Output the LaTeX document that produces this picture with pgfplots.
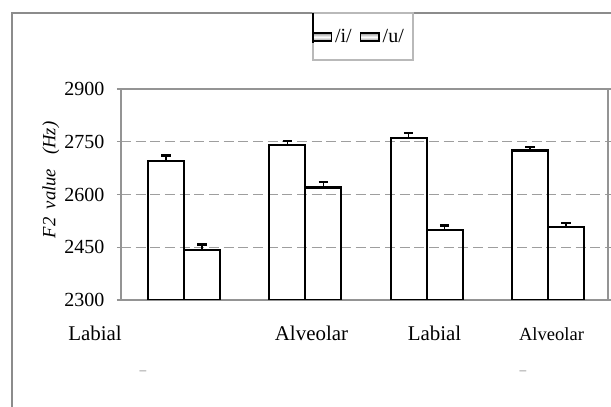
\documentclass[border=0pt]{standalone}
\usepackage{pgfplots}
\usepackage{pgfplotstable}
\pgfplotsset{compat=1.18}
\usepackage{fontspec}
\setmainfont{Liberation Serif}

\definecolor{framec}{gray}{0.55}
\definecolor{axisc}{gray}{0.58}
\definecolor{gridc}{gray}{0.62}

% mean F2 (Hz) and upper error per place of articulation
\pgfplotstableread{
grp  val   err
0    2695  16
1    2741  11
2    2760  15
3    2725  10
}\vowelI
\pgfplotstableread{
grp  val   err
0    2441  17
1    2620  15
2    2499  13
3    2507  12
}\vowelU

\begin{document}
\begin{tikzpicture}[x=0.75pt,y=0.75pt]
\useasboundingbox (0,0) rectangle (611,407);
% outer frame
\draw[framec, line width=2.2pt] (12,0) -- (12,394) -- (611,394);
\begin{axis}[
  at={(90.75pt,80.25pt)}, anchor=south west,
  scale only axis, width=365.25pt, height=158.25pt,
  xmin=-0.52, xmax=3.495,
  ymin=2300, ymax=2900,
  y coord trafo/.code={\pgfmathparse{#1-2300}},
  y coord inv trafo/.code={\pgfmathparse{#1+2300}},
  ytick={2300,2450,2600,2750,2900},
  yticklabels={2300,2450,2600,2750,2900},
  xtick=\empty,
  tick align=outside, major tick length=3pt,
  y tick style={axisc, line width=1pt},
  yticklabel style={font=\fontsize{15}{17}\selectfont, anchor=east, xshift=-6pt},
  axis line style={axisc, line width=1.4pt},
  ymajorgrids,
  major grid style={gridc, line width=1.1pt, dash pattern=on 7.5pt off 3.5pt},
  ybar=0pt, bar width=0.297,
  ylabel={\itshape F2\hspace{0.45em}value\hspace{0.75em}(Hz)},
  ylabel style={at={(axis description cs:-0.144,0.569)}, anchor=center,
                font=\fontsize{14}{16}\selectfont},
  legend columns=2,
  legend style={draw=none, fill=none, at={(axis description cs:0.392,1.247)},
                anchor=west, inner sep=0pt,
                font=\fontsize{15}{17}\selectfont,
                /tikz/every even column/.append style={column sep=4pt}},
  legend image code/.code={
    \draw[black, line width=1.2pt, top color=gray!85, bottom color=gray!85,
          middle color=white] (0pt,-3pt) rectangle (14pt,3pt);},
  error bars/error mark=|,
  error bars/error bar style={black, line width=1.2pt},
  error bars/error mark options={black, line width=1.8pt, mark size=3.6pt},
]
\addplot[draw=black, fill=none, line width=1.6pt,
  error bars/.cd, y dir=plus, y explicit]
  table[x=grp, y=val, y error=err] {\vowelI};
\addplot[draw=black, fill=none, line width=1.6pt,
  error bars/.cd, y dir=plus, y explicit]
  table[x=grp, y=val, y error=err] {\vowelU};
\legend{/i/,/u/}
\end{axis}
% legend frame
\draw[gray!55, line width=0.9pt] (313,394) rectangle (413,347);
\draw[black, line width=1.6pt] (313,394) -- (313,364);
% category labels
\begin{scope}[every node/.style={font=\fontsize{15.7}{18}\selectfont, anchor=base}]
\node at (95,66) {Labial};
\node at (311.5,66) {Alveolar};
\node at (434.5,66) {Labial};
\node[font=\fontsize{13.9}{16}\selectfont] at (551.5,66) {Alveolar};
\end{scope}
\node[font=\fontsize{10}{12}\selectfont, text=gray] at (143,34) {--};
\node[font=\fontsize{10}{12}\selectfont, text=gray] at (523,34) {--};
\end{tikzpicture}
\end{document}
